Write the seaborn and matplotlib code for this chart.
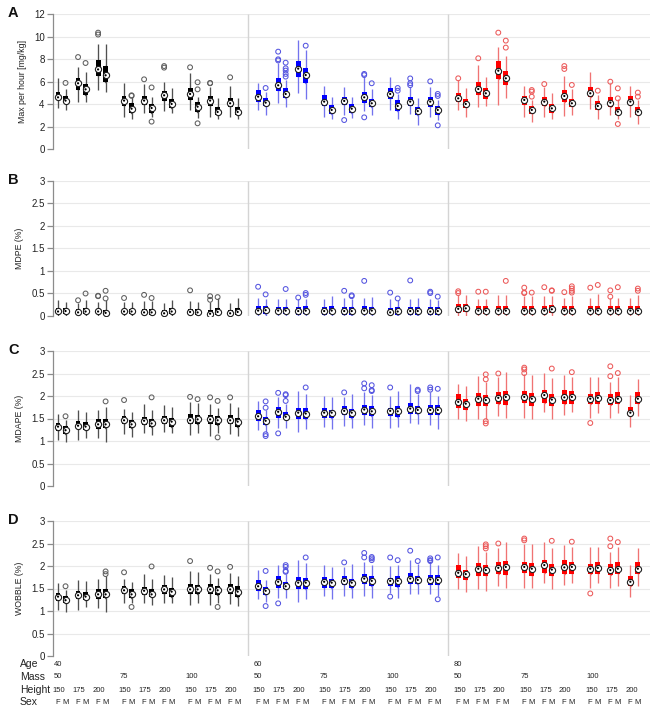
import numpy as np
import pandas as pd
import matplotlib
matplotlib.use("Agg")
import matplotlib.pyplot as plt
import matplotlib.transforms as mtransforms
import seaborn as sns

# ── Factors ───────────────────────────────────────────────────────────────────
AGES    = ["40", "60", "80"]
MASSES  = ["50", "75", "100"]
HEIGHTS = ["150", "175", "200"]
SEXES   = ["F", "M"]

BOX_PAL   = {"40": "#000000", "60": "#0000ff", "80": "#ff0000"}
WHISK_PAL = {"40": "#505050", "60": "#7373ee", "80": "#f07373"}
OUT_PAL   = {"40": "#5e5e5e", "60": "#5555e0", "80": "#ec5a5a"}

# ── Panel A: Max per hour [mg/kg] ────────────────────────────────────────────
A_MED = [4.62, 4.33, 5.87, 5.33, 7.10, 6.58, 4.33, 3.61, 4.33, 3.67, 4.80, 4.03, 4.92, 3.79, 4.33, 3.32, 4.09, 3.32,
         4.68, 4.15, 5.69, 4.92, 7.17, 6.60, 4.24, 3.50, 4.30, 3.61, 4.62, 4.09, 4.92, 3.85, 4.24, 3.40, 4.24, 3.50,
         4.53, 4.03, 5.36, 4.98, 6.99, 6.31, 4.39, 3.50, 4.24, 3.64, 4.74, 4.09, 4.98, 3.85, 4.15, 3.35, 4.24, 3.35]
A_Q1  = [4.40, 4.10, 5.30, 4.80, 6.50, 6.00, 3.85, 3.26, 3.94, 3.20, 4.33, 3.64, 4.39, 3.35, 3.85, 3.05, 3.73, 3.05,
         4.24, 3.85, 5.21, 4.53, 6.40, 5.93, 3.85, 3.14, 3.91, 3.26, 4.15, 3.73, 4.44, 3.44, 3.85, 3.05, 3.73, 3.05,
         4.24, 3.64, 4.83, 4.44, 6.22, 5.72, 3.94, 3.14, 3.85, 3.26, 4.24, 3.73, 4.62, 3.50, 3.73, 3.05, 3.94, 3.05]
A_Q3  = [5.10, 4.70, 6.30, 5.80, 7.90, 7.40, 4.74, 4.10, 4.74, 4.03, 5.20, 4.44, 5.42, 4.24, 4.74, 3.73, 4.53, 3.79,
         5.27, 4.53, 6.31, 5.42, 7.88, 7.20, 4.83, 3.94, 4.68, 4.03, 5.13, 4.50, 5.42, 4.39, 4.68, 3.79, 4.62, 3.85,
         4.98, 4.44, 6.00, 5.42, 7.88, 6.99, 4.74, 3.85, 4.68, 4.03, 5.27, 4.50, 5.51, 4.33, 4.62, 3.73, 4.74, 3.79]
A_LO  = [3.70, 3.50, 4.20, 4.20, 5.30, 5.10, 2.84, 2.67, 3.20, 2.90, 3.44, 3.20, 3.50, 2.76, 2.84, 2.67, 2.90, 2.67,
         3.50, 3.05, 4.09, 3.73, 4.98, 4.44, 2.90, 2.67, 3.05, 2.76, 3.44, 3.05, 3.50, 2.67, 3.14, 2.16, 2.84, 2.60,
         3.50, 2.90, 3.73, 3.85, 3.94, 4.53, 2.90, 2.46, 2.90, 2.67, 2.96, 3.05, 3.56, 2.67, 3.05, 2.67, 2.90, 2.25]
A_HI  = [6.30, 5.40, 7.35, 6.90, 9.40, 9.36, 5.87, 4.68, 5.80, 4.68, 6.00, 5.42, 6.75, 4.68, 5.50, 4.53, 5.63, 4.53,
         5.87, 5.13, 7.64, 6.16, 9.72, 8.83, 5.63, 4.62, 5.50, 4.68, 6.46, 5.33, 6.40, 4.95, 5.50, 4.53, 5.50, 4.39,
         6.16, 5.42, 7.50, 6.40, 9.07, 8.30, 5.63, 4.39, 5.50, 4.98, 6.52, 5.33, 6.90, 4.83, 5.87, 4.44, 5.63, 4.39]
A_OUT = [[], [5.90], [8.20], [7.67], [10.37, 10.20], [], [], [4.80, 4.75], [6.22], [5.50, 2.46], [7.26, 7.40], [],
         [7.29], [5.96, 5.33, 2.31], [5.87, 5.90], [], [6.40], [],
         [], [5.45], [8.68, 8.00, 7.90], [7.70, 7.20, 7.00, 6.70, 6.46], [], [9.21], [], [], [2.60], [],
         [6.70, 6.60, 2.84], [5.87], [], [5.45, 5.21], [6.30, 5.87, 5.70], [], [6.04], [4.92, 4.74, 2.13],
         [6.31], [], [8.09], [], [10.37], [9.66, 9.04], [], [5.27, 5.13, 4.68], [5.80], [], [7.40, 7.14], [5.72],
         [], [5.21], [6.01], [5.42, 4.53, 2.25], [], [5.04, 4.68]]

# ── Panel B: MDPE (%) ────────────────────────────────────────────────────────
B_MED = [0.10, 0.11, 0.08, 0.10, 0.10, 0.07, 0.10, 0.10, 0.08, 0.08, 0.06, 0.10, 0.09, 0.08, 0.05, 0.09, 0.06, 0.09,
         0.12, 0.13, 0.12, 0.12, 0.11, 0.12, 0.11, 0.12, 0.11, 0.11, 0.12, 0.12, 0.08, 0.10, 0.11, 0.11, 0.10, 0.11,
         0.16, 0.17, 0.12, 0.12, 0.12, 0.12, 0.12, 0.12, 0.12, 0.15, 0.12, 0.12, 0.12, 0.12, 0.12, 0.12, 0.12, 0.12]
B_Q1  = [0.04, 0.05, 0.03, 0.04, 0.04, 0.02, 0.04, 0.04, 0.03, 0.03, 0.02, 0.04, 0.03, 0.03, 0.01, 0.03, 0.02, 0.03,
         0.04, 0.05, 0.04, 0.04, 0.03, 0.04, 0.03, 0.04, 0.03, 0.03, 0.04, 0.04, 0.02, 0.03, 0.03, 0.03, 0.03, 0.03,
         0.07, 0.08, 0.05, 0.05, 0.05, 0.05, 0.05, 0.05, 0.05, 0.06, 0.05, 0.05, 0.05, 0.05, 0.05, 0.05, 0.05, 0.05]
B_Q3  = [0.17, 0.17, 0.15, 0.17, 0.16, 0.14, 0.16, 0.16, 0.15, 0.15, 0.14, 0.17, 0.16, 0.15, 0.13, 0.17, 0.14, 0.17,
         0.22, 0.22, 0.21, 0.21, 0.20, 0.22, 0.20, 0.22, 0.20, 0.20, 0.22, 0.21, 0.17, 0.19, 0.20, 0.20, 0.19, 0.20,
         0.26, 0.27, 0.23, 0.23, 0.23, 0.23, 0.23, 0.23, 0.23, 0.25, 0.23, 0.23, 0.23, 0.23, 0.23, 0.23, 0.23, 0.23]
B_LO  = [0.00] * 54
B_HI  = [0.35, 0.30, 0.28, 0.35, 0.32, 0.35, 0.32, 0.32, 0.34, 0.34, 0.28, 0.35, 0.34, 0.32, 0.32, 0.39, 0.28, 0.39,
         0.39, 0.37, 0.37, 0.37, 0.37, 0.37, 0.37, 0.44, 0.39, 0.37, 0.39, 0.42, 0.37, 0.35, 0.37, 0.39, 0.37, 0.36,
         0.46, 0.47, 0.37, 0.37, 0.47, 0.47, 0.44, 0.44, 0.44, 0.44, 0.41, 0.44, 0.41, 0.49, 0.41, 0.41, 0.41, 0.47]
B_OUT = [[], [], [0.35], [0.50], [0.44, 0.45], [0.56, 0.39], [0.40], [], [0.47], [0.40], [], [], [0.57], [],
         [0.44, 0.36], [0.42], [], [],
         [0.65], [0.48], [], [0.60], [0.41], [0.51, 0.47], [], [], [0.56], [0.46, 0.44], [0.78], [], [0.52],
         [0.39], [0.79], [], [0.54, 0.51], [0.43],
         [0.55, 0.51], [], [0.54], [0.54], [], [0.78], [0.63, 0.52, 0.51], [0.52], [0.64], [0.57, 0.56], [0.53],
         [0.66, 0.61, 0.56, 0.52], [0.63], [0.69], [0.57, 0.43], [0.64], [], [0.61, 0.56]]

# ── Panel C: MDAPE (%) ───────────────────────────────────────────────────────
C_MED = [1.32, 1.24, 1.34, 1.32, 1.37, 1.37, 1.46, 1.37, 1.45, 1.39, 1.46, 1.43, 1.46, 1.48, 1.48, 1.46, 1.46, 1.43,
         1.55, 1.45, 1.65, 1.54, 1.63, 1.61, 1.63, 1.63, 1.67, 1.63, 1.70, 1.66, 1.67, 1.66, 1.72, 1.69, 1.69, 1.69,
         1.87, 1.83, 1.94, 1.91, 1.96, 1.98, 1.98, 1.94, 2.02, 1.92, 1.97, 1.98, 1.94, 1.96, 1.91, 1.94, 1.63, 1.94]
C_Q1  = [1.23, 1.15, 1.26, 1.24, 1.26, 1.28, 1.37, 1.28, 1.35, 1.32, 1.37, 1.32, 1.37, 1.37, 1.37, 1.35, 1.37, 1.32,
         1.45, 1.35, 1.52, 1.48, 1.48, 1.48, 1.52, 1.52, 1.57, 1.52, 1.57, 1.55, 1.55, 1.54, 1.61, 1.60, 1.57, 1.57,
         1.74, 1.70, 1.77, 1.77, 1.82, 1.80, 1.85, 1.77, 1.85, 1.77, 1.83, 1.83, 1.82, 1.82, 1.80, 1.82, 1.55, 1.82]
C_Q3  = [1.40, 1.33, 1.45, 1.43, 1.48, 1.48, 1.55, 1.46, 1.54, 1.50, 1.55, 1.52, 1.60, 1.57, 1.57, 1.55, 1.57, 1.52,
         1.69, 1.54, 1.76, 1.65, 1.74, 1.74, 1.74, 1.70, 1.77, 1.72, 1.80, 1.77, 1.74, 1.77, 1.85, 1.77, 1.80, 1.80,
         2.05, 1.94, 2.07, 2.02, 2.09, 2.11, 2.11, 2.07, 2.14, 2.05, 2.13, 2.11, 2.05, 2.09, 2.04, 2.08, 1.76, 2.09]
C_LO  = [1.02, 0.98, 1.03, 1.06, 1.06, 0.98, 1.15, 1.08, 1.17, 1.13, 1.20, 1.17, 1.13, 1.17, 1.11, 1.17, 1.15, 1.11,
         1.24, 1.20, 1.28, 1.28, 1.20, 1.26, 1.32, 1.26, 1.33, 1.30, 1.35, 1.30, 1.30, 1.32, 1.39, 1.37, 1.35, 1.26,
         1.50, 1.45, 1.50, 1.50, 1.55, 1.52, 1.52, 1.50, 1.65, 1.50, 1.57, 1.65, 1.52, 1.63, 1.52, 1.63, 1.32, 1.55]
C_HI  = [1.61, 1.46, 1.69, 1.65, 1.70, 1.76, 1.72, 1.65, 1.82, 1.70, 1.80, 1.76, 1.87, 1.85, 1.82, 1.74, 1.85, 1.76,
         1.89, 1.69, 1.98, 1.82, 2.11, 2.05, 2.00, 1.98, 1.98, 2.04, 2.09, 2.02, 2.00, 2.11, 2.26, 2.05, 2.08, 2.00,
         2.26, 2.22, 2.44, 2.31, 2.42, 2.54, 2.48, 2.46, 2.51, 2.39, 2.46, 2.42, 2.42, 2.42, 2.31, 2.42, 2.02, 2.37]
C_OUT = [[], [1.55], [], [], [], [1.88], [1.91], [], [], [1.97], [], [], [1.98], [1.93], [1.97], [1.89, 1.08],
         [1.97], [],
         [], [1.88, 1.74, 1.15, 1.11], [2.07, 1.17], [2.04, 2.02, 1.89], [], [2.19], [], [], [2.08], [],
         [2.28, 2.17], [2.24, 2.13, 2.11], [2.19], [], [], [2.14, 2.11], [2.19, 2.14], [2.16],
         [], [], [], [2.48, 2.37, 1.44, 1.39], [2.50], [], [2.63, 2.59, 2.51], [], [], [2.61], [], [2.53], [1.40],
         [], [2.66, 2.44], [2.51], [], []]

# ── Panel D: WOBBLE (%) ──────────────────────────────────────────────────────
D_MED = [1.32, 1.24, 1.35, 1.32, 1.37, 1.37, 1.46, 1.37, 1.45, 1.37, 1.48, 1.43, 1.48, 1.48, 1.48, 1.46, 1.48, 1.43,
         1.55, 1.45, 1.65, 1.55, 1.63, 1.63, 1.65, 1.63, 1.67, 1.63, 1.72, 1.67, 1.67, 1.67, 1.72, 1.69, 1.70, 1.69,
         1.85, 1.82, 1.94, 1.91, 1.96, 1.98, 1.98, 1.94, 2.02, 1.92, 1.97, 1.98, 1.94, 1.96, 1.91, 1.94, 1.65, 1.94]
D_Q1  = [1.23, 1.17, 1.26, 1.24, 1.26, 1.28, 1.37, 1.28, 1.35, 1.32, 1.37, 1.32, 1.37, 1.37, 1.37, 1.35, 1.37, 1.32,
         1.45, 1.35, 1.52, 1.48, 1.50, 1.48, 1.52, 1.52, 1.57, 1.52, 1.60, 1.55, 1.55, 1.54, 1.61, 1.60, 1.57, 1.57,
         1.74, 1.70, 1.77, 1.77, 1.82, 1.80, 1.85, 1.77, 1.85, 1.77, 1.83, 1.83, 1.82, 1.82, 1.80, 1.82, 1.55, 1.82]
D_Q3  = [1.40, 1.33, 1.45, 1.43, 1.48, 1.48, 1.55, 1.48, 1.54, 1.50, 1.57, 1.52, 1.61, 1.57, 1.60, 1.55, 1.60, 1.55,
         1.69, 1.54, 1.77, 1.65, 1.76, 1.74, 1.76, 1.72, 1.77, 1.72, 1.82, 1.77, 1.74, 1.77, 1.85, 1.77, 1.80, 1.80,
         2.02, 1.92, 2.07, 2.02, 2.09, 2.11, 2.09, 2.07, 2.14, 2.05, 2.14, 2.09, 2.05, 2.09, 2.04, 2.09, 1.77, 2.09]
D_LO  = [1.02, 0.98, 1.03, 1.08, 1.06, 0.98, 1.17, 1.17, 1.17, 1.13, 1.18, 1.18, 1.13, 1.17, 1.13, 1.18, 1.15, 1.11,
         1.26, 1.20, 1.30, 1.28, 1.20, 1.26, 1.33, 1.26, 1.33, 1.30, 1.33, 1.30, 1.39, 1.30, 1.37, 1.37, 1.37, 1.33,
         1.50, 1.43, 1.48, 1.45, 1.55, 1.52, 1.52, 1.52, 1.63, 1.48, 1.57, 1.63, 1.52, 1.63, 1.52, 1.55, 1.32, 1.55]
D_HI  = [1.63, 1.46, 1.69, 1.67, 1.72, 1.77, 1.72, 1.65, 1.82, 1.72, 1.80, 1.76, 1.89, 1.87, 1.82, 1.74, 1.85, 1.77,
         1.92, 1.69, 2.02, 1.82, 2.14, 2.07, 2.02, 1.98, 1.98, 2.04, 2.09, 2.02, 2.00, 2.02, 2.13, 2.04, 2.08, 2.02,
         2.29, 2.22, 2.44, 2.31, 2.41, 2.54, 2.50, 2.48, 2.54, 2.39, 2.46, 2.42, 2.42, 2.42, 2.31, 2.42, 2.02, 2.39]
D_OUT = [[], [1.55], [], [], [], [1.88, 1.82], [1.86], [1.09], [], [1.99], [], [], [2.11], [], [1.96],
         [1.88, 1.09], [1.98], [],
         [], [1.89, 1.11], [1.17], [2.02, 1.98, 1.89, 1.87], [], [2.19], [], [], [2.08], [], [2.29, 2.19],
         [2.20, 2.17, 2.13], [2.19, 1.32], [2.13], [2.34], [2.11], [2.17, 2.13, 2.11], [2.19, 1.26],
         [], [], [], [2.48, 2.44, 2.39], [2.50], [], [2.61, 2.57], [], [], [2.56], [], [2.54], [1.39], [],
         [2.61, 2.44], [2.53], [], []]

PANELS = [
    ("A", "Max per hour [mg/kg]", 12, [0, 2, 4, 6, 8, 10, 12], A_MED, A_Q1, A_Q3, A_LO, A_HI, A_OUT),
    ("B", "MDPE (%)", 3, [0, 0.5, 1, 1.5, 2, 2.5, 3], B_MED, B_Q1, B_Q3, B_LO, B_HI, B_OUT),
    ("C", "MDAPE (%)", 3, [0, 0.5, 1, 1.5, 2, 2.5, 3], C_MED, C_Q1, C_Q3, C_LO, C_HI, C_OUT),
    ("D", "WOBBLE (%)", 3, [0, 0.5, 1, 1.5, 2, 2.5, 3], D_MED, D_Q1, D_Q3, D_LO, D_HI, D_OUT),
]

# ── Layout (units = F/M spacing) ─────────────────────────────────────────────
AGE_STEP, MASS_STEP, HEIGHT_STEP = 26.67, 8.8, 2.67
W, H = 660, 716
AX_BOTTOM_PX = [149.3, 316.0, 486.0, 656.0]   # pixel row of y=0 in each panel
AX_H_PX = 135.0
AX_LEFT_PX, AX_W_PX = 53.0, 597.0

sns.set_style("white")
plt.rcParams["font.family"] = ["Liberation Sans", "DejaVu Sans"]

pos, age_of = [], []
for ai, a in enumerate(AGES):
    for mi in range(len(MASSES)):
        for hi in range(len(HEIGHTS)):
            for si in range(len(SEXES)):
                pos.append(ai * AGE_STEP + mi * MASS_STEP + hi * HEIGHT_STEP + si)
                age_of.append(a)
pos = np.round(np.array(pos), 3)
seps = [(ai * AGE_STEP + 2 * MASS_STEP + 2 * HEIGHT_STEP + 1 + (ai + 1) * AGE_STEP) / 2 for ai in range(2)]
XLIM = (-0.67, 78.9)

fig = plt.figure(figsize=(W / 100, H / 100), dpi=100)

for k, (letter, ylab, ymax, yticks, med, q1, q3, lo, hi, outs) in enumerate(PANELS):
    ax = fig.add_axes([AX_LEFT_PX / W, 1 - AX_BOTTOM_PX[k] / H, AX_W_PX / W, AX_H_PX / H])

    # grid + age separators
    for t in yticks[1:]:
        ax.axhline(t, color="#e9e9e9", lw=0.8, zorder=0)
    ax.vlines(seps, 0, ymax, color="#d4d4d4", lw=1.0, zorder=0)

    # five numbers per box -> percentiles 0/25/50/75/100 hit them exactly
    whisk = pd.DataFrame({
        "pos": np.repeat(pos, 5),
        "age": np.repeat(age_of, 5),
        "val": np.column_stack([lo, q1, med, q3, hi]).ravel(),
    })
    boxes = pd.DataFrame({
        "pos": np.repeat(pos, 5),
        "age": np.repeat(age_of, 5),
        "val": np.column_stack([q1, q1, med, q3, q3]).ravel(),
    })

    # thin light whiskers spanning lo..hi
    sns.boxplot(data=whisk, x="pos", y="val", hue="age", palette=WHISK_PAL, native_scale=True,
                dodge=False, fill=False, width=0.06, whis=(0, 100), showfliers=False,
                showcaps=False, linewidth=0.95, saturation=1, legend=False, ax=ax)
    # solid narrow boxes q1..q3
    sns.boxplot(data=boxes, x="pos", y="val", hue="age", palette=BOX_PAL, native_scale=True,
                dodge=False, fill=True, width=0.65, whis=(0, 100), showfliers=False,
                showcaps=False, saturation=1, legend=False, ax=ax,
                boxprops=dict(edgecolor="none", linewidth=0, zorder=2.5),
                medianprops=dict(color="none", linewidth=0),
                whiskerprops=dict(color="none", linewidth=0))

    # outliers
    ox = [p for p, o in zip(pos, outs) for _ in o]
    oy = [v for o in outs for v in o]
    oa = [a for a, o in zip(age_of, outs) for _ in o]
    odf = pd.DataFrame({"pos": ox, "val": oy, "age": oa})
    for a in AGES:
        sub = odf[odf["age"] == a]
        sns.scatterplot(data=sub, x="pos", y="val", color=OUT_PAL[a], facecolors="none",
                        edgecolor=OUT_PAL[a], s=12, linewidth=0.75, zorder=3, ax=ax, legend=False)

    # median markers: white circle with dot
    mdf = pd.DataFrame({"pos": pos, "val": med})
    sns.scatterplot(data=mdf, x="pos", y="val", color="white", edgecolor="#1e1e1e",
                    s=20, linewidth=0.8, zorder=4, ax=ax, legend=False)
    sns.scatterplot(data=mdf, x="pos", y="val", color="#000000", edgecolor="none",
                    s=2.5, zorder=5, ax=ax, legend=False)

    ax.set_xlim(*XLIM)
    ax.set_ylim(0, ymax)
    ax.set_xticks([])
    ax.set_xlabel("")
    ax.set_yticks(yticks)
    ax.set_yticklabels([f"{t:g}" for t in yticks])
    for s in ("top", "right", "bottom"):
        ax.spines[s].set_visible(False)
    ax.spines["left"].set_bounds(0, ymax)
    ax.spines["left"].set_color("#8c8c8c")
    ax.spines["left"].set_linewidth(0.9)
    ax.tick_params(axis="y", length=4, width=0.9, color="#8c8c8c", labelsize=7,
                   labelcolor="#222222", pad=2, left=True)
    ax.set_ylabel(ylab, fontsize=6.3, color="#222222", labelpad=5)
    ax.patch.set_alpha(0)

    top_px = AX_BOTTOM_PX[k] - AX_H_PX
    fig.text(8 / W, 1 - (top_px - 1) / H, letter, fontsize=10.5, fontweight="bold",
             ha="left", va="center", color="#111111")

# ── Factor labels under the last panel ───────────────────────────────────────
trans = mtransforms.blended_transform_factory(ax.transData, fig.transFigure)
rows = {"Age": 664, "Mass": 677, "Height": 690, "Sex": 702}
for name, ypx in rows.items():
    fig.text(20 / W, 1 - ypx / H, name, fontsize=7.5, ha="left", va="center", color="#222222")

def yf(name):
    return 1 - rows[name] / H

for ai, a in enumerate(AGES):
    x0 = ai * AGE_STEP
    fig.text(x0 - 0.55, yf("Age"), a, transform=trans, fontsize=5.5, ha="left", va="center", color="#222222")
    for mi, m in enumerate(MASSES):
        x1 = x0 + mi * MASS_STEP
        fig.text(x1 - 0.55, yf("Mass"), m, transform=trans, fontsize=5.5, ha="left", va="center", color="#222222")
        for hi, h in enumerate(HEIGHTS):
            x2 = x1 + hi * HEIGHT_STEP
            fig.text(x2 - 0.7, yf("Height"), h, transform=trans, fontsize=5.5, ha="left", va="center",
                     color="#222222")
            for si, s in enumerate(SEXES):
                fig.text(x2 + si - 0.05, yf("Sex"), s, transform=trans, fontsize=5.5, ha="center",
                         va="center", color="#222222")

fig.savefig("out.png", dpi=100, facecolor="white")
